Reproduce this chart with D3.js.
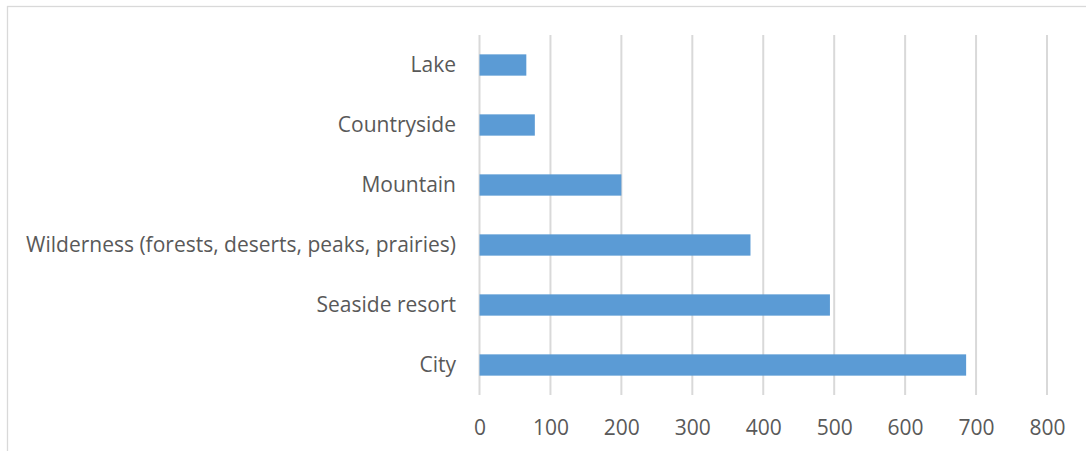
<!DOCTYPE html>
<html>
<head>
<meta charset="utf-8">
<script src="https://cdn.jsdelivr.net/npm/d3@7"></script>
<style>
  body { margin: 0; background: #fff; }
  svg { display: block; }
  .tick text { fill: #595959; font-family: "Open Sans", sans-serif; }
</style>
</head>
<body>
<div id="chart"></div>
<script>
const categories = ['Lake', 'Countryside', 'Mountain', 'Wilderness (forests, deserts, peaks, prairies)', 'Seaside resort', 'City'];
const values = [66, 78, 200, 382, 494, 686];
const xTicks = [0, 100, 200, 300, 400, 500, 600, 700, 800];

const width = 1086, height = 451;
const margin = { top: 35, left: 479.5, right: 39, bottom: 56 };

const svg = d3.select('#chart').append('svg')
    .attr('width', width)
    .attr('height', height);

// chart border (right and bottom edges fall outside the window)
svg.append('rect')
    .attr('x', 7.5).attr('y', 6.5)
    .attr('width', width + 10).attr('height', height + 10)
    .attr('fill', 'none')
    .attr('stroke', '#d9d9d9')
    .attr('stroke-width', 1.3);

const x = d3.scaleLinear()
    .domain([0, 800])
    .range([margin.left, width - margin.right]);

const y = d3.scaleBand()
    .domain(categories)
    .range([margin.top, height - margin.bottom])
    .paddingInner(0.645)
    .paddingOuter(0.3225);

// gridlines
svg.append('g')
    .selectAll('line')
    .data(xTicks)
    .join('line')
    .attr('x1', d => x(d)).attr('x2', d => x(d))
    .attr('y1', margin.top).attr('y2', height - margin.bottom)
    .attr('stroke', '#d9d9d9')
    .attr('stroke-width', 2);

svg.append('g')
    .selectAll('rect')
    .data(categories)
    .join('rect')
    .attr('x', x(0))
    .attr('y', d => y(d))
    .attr('width', (d, i) => x(values[i]) - x(0))
    .attr('height', y.bandwidth())
    .attr('fill', '#5b9bd5');

const xAxis = svg.append('g')
    .attr('transform', `translate(0,${height - margin.bottom})`)
    .call(d3.axisBottom(x).tickValues(xTicks).tickSize(0).tickPadding(25));
xAxis.select('.domain').remove();
xAxis.selectAll('text').style('font-size', '21px');

const yAxis = svg.append('g')
    .attr('transform', `translate(${margin.left},0)`)
    .call(d3.axisLeft(y).tickSize(0).tickPadding(23.5));
yAxis.select('.domain').remove();
yAxis.selectAll('text').style('font-size', '21px');
</script>
</body>
</html>
